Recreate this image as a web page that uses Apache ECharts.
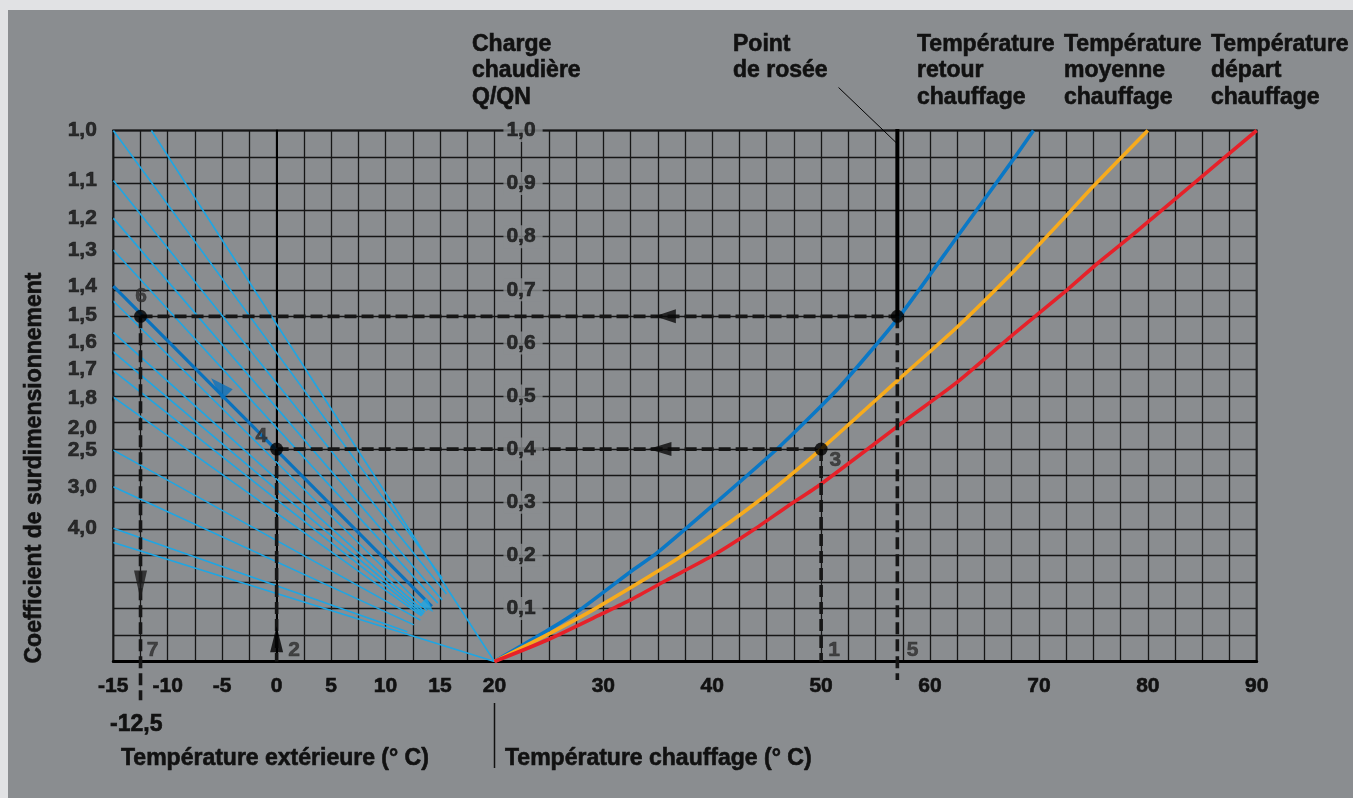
<!DOCTYPE html>
<html>
<head>
<meta charset="utf-8" />
<title>Charge chaudière / température</title>
<script src="https://cdn.jsdelivr.net/npm/echarts@6/dist/echarts.min.js"></script>
<style>
	*{ padding: 0; margin: 0; }
	body{ background: #e1e2e4; width: 1353px; height: 798px; overflow: hidden; position: relative; }
	.bg{ position: absolute; left: 8px; top: 10px; right: 0; bottom: 0; background: #8a8d90; }
	.main{ position: absolute; left: 0; top: 0; width: 1353px; height: 798px; }
</style>
</head>
<body>
<div class="bg"></div>
<div id="main" class="main"></div>
<script type="text/javascript">
// axes
var xTicks = [-15, -10, -5, 0, 5, 10, 15, 20, 30, 40, 50, 60, 70, 80, 90];
var loadTicks = [0.1, 0.2, 0.3, 0.4, 0.5, 0.6, 0.7, 0.8, 0.9, 1.0];

// coefficient de surdimensionnement : position du texte, départ de la droite à -15 °C
var coefLabels = ['1,0', '1,1', '1,2', '1,3', '1,4', '1,5', '1,6', '1,7', '1,8', '2,0', '2,5', '3,0', '4,0'];
var coefLabelY = [1.0, 0.906, 0.835, 0.775, 0.707, 0.652, 0.602, 0.55, 0.496, 0.439, 0.398, 0.329, 0.251];
var coefLineY  = [1.0, 0.906, 0.835, 0.775, 0.707, 0.679, 0.62, 0.583, 0.548, 0.498, 0.398, 0.329, 0.251];
// fin de chaque droite vers 15 °C
var coefEndX = [15.2, 15.6, 15.2, 14.8, 14.25, 13.8, 13.6, 13.5, 13.4, 13.3, 13.2, 12.6, 12.0];
var coefEndY = [0.157, 0.127, 0.116, 0.11, 0.104, 0.096, 0.093, 0.09, 0.088, 0.086, 0.078, 0.069, 0.056];
// deux droites qui vont jusqu'à 20 °C
var extraLines = [[[-11.5, 1.0], [20, 0]], [[-15, 0.224], [20, 0]]];

// courbes chauffage [température, Q/QN]
var retour = [[20, 0], [25, 0.06], [27.9, 0.098], [32.5, 0.169], [34.9, 0.204], [40.1, 0.295], [46.2, 0.405],
	[51.7, 0.517], [57.2, 0.65], [62.5, 0.8], [67.7, 0.947], [69.5, 1.0]];
var moyenne = [[20, 0], [25, 0.052], [29.3, 0.1], [37.3, 0.2], [44.1, 0.3], [50, 0.4], [57, 0.529],
	[62.5, 0.63], [67.7, 0.735], [72.3, 0.835], [75, 0.895], [80, 1.0]];
var depart = [[20, 0], [24.8, 0.04], [30, 0.091], [32.5, 0.116], [35.8, 0.153], [40.1, 0.2], [43.8, 0.248],
	[46.9, 0.292], [49.9, 0.333], [55.1, 0.413], [57.6, 0.452], [62.5, 0.526], [67.7, 0.617], [72.6, 0.7],
	[75.4, 0.75], [78.4, 0.8], [84.2, 0.9], [90, 1.0]];

// exemple de lecture
var guideH = [[[-12.5, 0.65], [57, 0.65]], [[0, 0.4], [50, 0.4]]];
var guideV = [[[-12.5, 0.65], [-12.5, -0.073]], [[0, 0.4], [0, 0]], [[50, 0.4], [50, 0]], [[57, 0.65], [57, -0.035]]];
var dewLine = [[57, 1.003], [57, 0.65]];
var dewLeader = [[51.6, 1.081], [56.95, 0.976]];
var dots = [[-12.5, 0.65], [0, 0.4], [50, 0.4], [57, 0.65]];
var stepNames = ['6', '4', '3', '1', '2', '7', '5'];
var stepPts = [[-12.45, 0.687], [-1.4, 0.425], [51.3, 0.38], [51.2, 0.021], [1.6, 0.021], [-11.4, 0.021], [58.4, 0.021]];
var arrowPts = [[35.7, 0.65], [35.2, 0.4], [0, 0.042], [-12.5, 0.144], [-5.27, 0.518], [13.9, 0.103]];

var FONT = '"Liberation Sans", Arial, sans-serif';
var GRAY = '#8a8d90';
var BLACK = '#111';

var myChart = echarts.init(document.getElementById('main'));

var series = [];

// gras plus marqué, comme l'original
var boldLabel = function (size, color) {
	return { color: color, fontFamily: FONT, fontWeight: 'bold', fontSize: size, textBorderColor: color, textBorderWidth: 0.6 };
};

// droites bleues
coefLineY.forEach(function (y0, i) {
	var main = (i == 4);
	series.push({
		type: 'line', silent: true, showSymbol: false, z: main ? 3 : 2,
		data: [[-15, y0], [coefEndX[i], coefEndY[i]]],
		lineStyle: { color: main ? '#0a72bd' : '#1ea6e4', width: main ? 3.2 : 1.6 }
	});
	// petit trait vers le texte
	series.push({
		type: 'line', silent: true, showSymbol: false, clip: false, z: 2,
		data: [[-16.05, coefLabelY[i]], [-15, y0]],
		lineStyle: { color: BLACK, width: 1.2 }
	});
});
extraLines.forEach(function (l) {
	series.push({
		type: 'line', silent: true, showSymbol: false, z: 2, data: l,
		lineStyle: { color: '#1ea6e4', width: 1.6 }
	});
});

// courbes
[[retour, '#0a78c6'], [moyenne, '#f7ab1c'], [depart, '#e62129']].forEach(function (c) {
	series.push({
		type: 'line', silent: true, showSymbol: false, smooth: 0.2, z: 3,
		data: c[0], lineStyle: { color: c[1], width: 3.6 }
	});
});

// lignes pointillées
guideH.concat(guideV).forEach(function (l) {
	series.push({
		type: 'line', silent: true, showSymbol: false, clip: false, z: 4, data: l,
		lineStyle: { color: '#161616', width: 3.6, type: [12, 5] }
	});
});
series.push({
	type: 'line', silent: true, showSymbol: false, clip: false, z: 4, data: dewLine,
	lineStyle: { color: '#000', width: 4 }
});
series.push({
	type: 'line', silent: true, showSymbol: false, clip: false, z: 4, data: dewLeader,
	lineStyle: { color: '#000', width: 1 }
});

// flèches
var arrowRot = [90, 90, 0, 180, 45, 225];
var arrowSize = [[14, 21], [14, 23], [13, 26], [13, 29], [15, 23], [11, 15]];
var arrowCol = ['#0a0a0a', '#0a0a0a', '#000', '#1e1e1e', '#0a72bd', '#1ea6e4'];
series.push({
	type: 'scatter', silent: true, clip: false, z: 5, symbol: 'triangle',
	data: arrowPts.map(function (p, i) {
		return { value: p, symbolRotate: arrowRot[i], symbolSize: arrowSize[i], itemStyle: { color: arrowCol[i] } };
	})
});

// points
series.push({
	type: 'scatter', silent: true, z: 6, symbol: 'circle', symbolSize: 13,
	itemStyle: { color: '#000' }, data: dots
});

// numéros des étapes
var stepLabel = boldLabel(21, '#2e2e2e');
stepLabel.show = true; stepLabel.position = 'inside'; stepLabel.formatter = '{b}';
series.push({
	type: 'scatter', silent: true, clip: false, z: 7, symbolSize: 0,
	data: stepPts.map(function (p, i) { return { name: stepNames[i], value: p }; }),
	label: stepLabel
});

// textes coefficient
var coefLabel = boldLabel(21, BLACK);
coefLabel.show = true; coefLabel.position = 'left'; coefLabel.distance = 5; coefLabel.formatter = '{b}';
series.push({
	type: 'scatter', silent: true, clip: false, z: 7, symbolSize: 0,
	data: coefLabelY.map(function (y, i) { return { name: coefLabels[i], value: [-16.05, y] }; }),
	label: coefLabel
});

// textes Q/QN sur l'axe 20 °C
var loadLabel = boldLabel(21, BLACK);
loadLabel.show = true; loadLabel.position = 'right'; loadLabel.distance = 9;
loadLabel.backgroundColor = GRAY; loadLabel.padding = [1, 7, 1, 3];
loadLabel.formatter = function (p) { return p.value[1].toFixed(1).replace('.', ','); };
series.push({
	type: 'scatter', silent: true, clip: false, z: 10, symbolSize: 0,
	data: loadTicks.map(function (v) { return [20, v]; }),
	label: loadLabel
});

var txt = function (s, x, y) {
	return { type: 'text', x: x, y: y, silent: true, z: 20,
		style: { text: s, fill: BLACK, stroke: BLACK, lineWidth: 0.6, fontFamily: FONT, fontWeight: 'bold', fontSize: 23, lineHeight: 26.5, verticalAlign: 'top' } };
};

var xLabel = boldLabel(21, BLACK);
xLabel.margin = 14;
xLabel.formatter = function (v) {
	for (var i = 0; i < xTicks.length; i++) { if (Math.abs(xTicks[i] - v) < 1e-6) return String(xTicks[i]); }
	return '';
};

var option = {
	animation: false,
	grid: { left: 113.3, right: 96.3, top: 130.5, bottom: 136.5, show: true, borderColor: BLACK, borderWidth: 2, backgroundColor: 'transparent' },
	xAxis: {
		type: 'value', min: -15, max: 90, interval: 2.5,
		axisLine: { show: true, onZero: true, lineStyle: { color: '#000', width: 3 } },
		axisTick: { show: false },
		splitLine: { show: true, lineStyle: { color: '#161616', width: 1.3 } },
		axisLabel: xLabel
	},
	yAxis: {
		type: 'value', min: 0, max: 1, interval: 0.05,
		axisLine: { show: true, lineStyle: { color: '#000', width: 2 } },
		axisTick: { show: false },
		axisLabel: { show: false },
		splitLine: { show: true, lineStyle: { color: '#161616', width: 1.3 } }
	},
	graphic: [
		txt('Charge\nchaudière\nQ/QN', 472, 31),
		txt('Point\nde rosée', 733, 31),
		txt('Température\nretour\nchauffage', 917, 31),
		txt('Température\nmoyenne\nchauffage', 1064, 31),
		txt('Température\ndépart\nchauffage', 1211, 31),
		txt('-12,5', 110, 711),
		txt('Température extérieure (° C)', 121, 745),
		txt('Température chauffage (° C)', 505, 745),
		{
			type: 'text', x: 35, y: 468, rotation: Math.PI / 2, silent: true, z: 20,
			style: { text: 'Coefficient de surdimensionnement', fill: BLACK, stroke: BLACK, lineWidth: 0.6, fontFamily: FONT, fontWeight: 'bold', fontSize: 23, align: 'center', verticalAlign: 'middle' }
		},
		{
			type: 'line', silent: true, z: 20,
			shape: { x1: 494.5, y1: 703, x2: 494.5, y2: 768 },
			style: { stroke: BLACK, lineWidth: 1.5 }
		}
	],
	series: series
};

myChart.setOption(option);
</script>
</body>
</html>
